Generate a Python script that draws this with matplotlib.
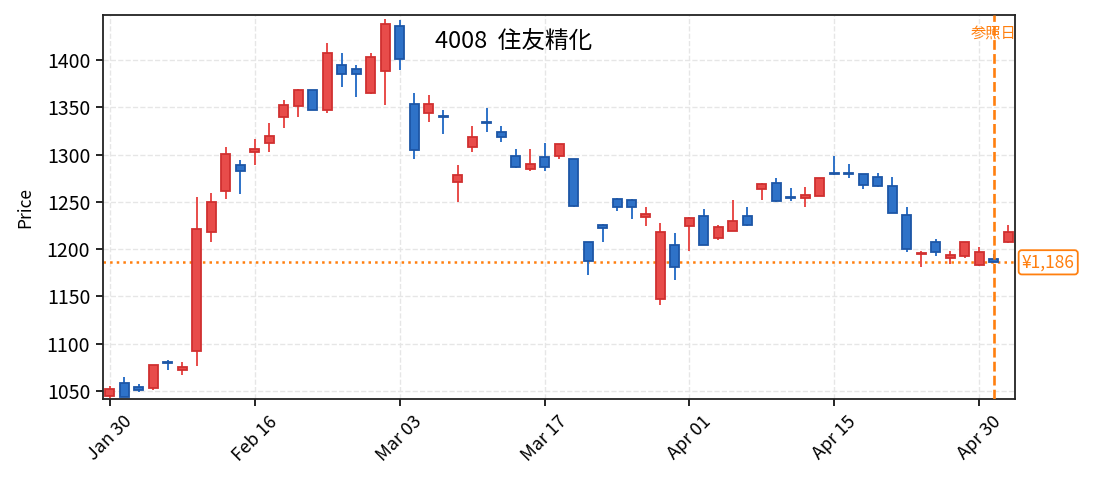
import matplotlib
matplotlib.use("Agg")
import matplotlib.pyplot as plt
import numpy as np

plt.rcParams['font.family'] = ['Noto Sans CJK JP', 'DejaVu Sans']

# Daily OHLC (trading days, 2026)
dates = ['Jan 30', 'Feb 02', 'Feb 03', 'Feb 04', 'Feb 05', 'Feb 06', 'Feb 09', 'Feb 10',
         'Feb 12', 'Feb 13', 'Feb 16', 'Feb 17', 'Feb 18', 'Feb 19', 'Feb 20', 'Feb 24',
         'Feb 25', 'Feb 26', 'Feb 27', 'Mar 02', 'Mar 03', 'Mar 04', 'Mar 05', 'Mar 06',
         'Mar 09', 'Mar 10', 'Mar 11', 'Mar 12', 'Mar 13', 'Mar 16', 'Mar 17', 'Mar 18',
         'Mar 19', 'Mar 23', 'Mar 24', 'Mar 25', 'Mar 26', 'Mar 27', 'Mar 30', 'Mar 31',
         'Apr 01', 'Apr 02', 'Apr 03', 'Apr 06', 'Apr 07', 'Apr 08', 'Apr 09', 'Apr 10',
         'Apr 13', 'Apr 14', 'Apr 15', 'Apr 16', 'Apr 17', 'Apr 20', 'Apr 21', 'Apr 22',
         'Apr 23', 'Apr 24', 'Apr 27', 'Apr 28', 'Apr 30', 'May 01', 'May 07']
opens = [1045, 1058, 1054, 1053, 1080, 1072, 1092, 1218, 1261, 1289, 1303, 1312, 1340,
         1351, 1368, 1347, 1395, 1391, 1365, 1388, 1436, 1354, 1344, 1341, 1271, 1308,
         1334, 1324, 1299, 1285, 1297, 1299, 1295, 1207, 1226, 1253, 1252, 1234, 1147,
         1204, 1224, 1235, 1212, 1219, 1235, 1264, 1270, 1255, 1254, 1256, 1280, 1280,
         1279, 1276, 1267, 1236, 1195, 1208, 1191, 1193, 1183, 1190, 1207]
highs = [1055, 1065, 1057, 1077, 1083, 1081, 1255, 1259, 1308, 1294, 1316, 1333, 1358,
         1369, 1368, 1418, 1408, 1395, 1408, 1443, 1442, 1365, 1363, 1347, 1289, 1330,
         1349, 1330, 1306, 1306, 1312, 1311, 1295, 1208, 1227, 1254, 1253, 1244, 1228,
         1217, 1234, 1242, 1226, 1252, 1245, 1270, 1275, 1265, 1266, 1275, 1298, 1290,
         1279, 1281, 1276, 1244, 1198, 1211, 1198, 1207, 1202, 1195, 1226]
lows = [1042, 1043, 1049, 1051, 1072, 1067, 1076, 1207, 1253, 1258, 1289, 1303, 1328,
        1340, 1347, 1344, 1372, 1361, 1364, 1352, 1390, 1295, 1334, 1322, 1250, 1303,
        1324, 1313, 1286, 1283, 1283, 1295, 1244, 1173, 1207, 1240, 1232, 1224, 1141,
        1167, 1198, 1204, 1210, 1219, 1224, 1252, 1250, 1251, 1244, 1256, 1278, 1275,
        1264, 1266, 1238, 1197, 1181, 1193, 1184, 1191, 1182, 1186, 1206]
closes = [1052, 1043, 1051, 1077, 1079, 1075, 1221, 1250, 1301, 1283, 1306, 1320, 1352,
          1368, 1347, 1407, 1385, 1385, 1403, 1438, 1401, 1305, 1354, 1340, 1278, 1319,
          1333, 1319, 1287, 1290, 1287, 1311, 1246, 1187, 1222, 1245, 1244, 1237, 1218,
          1181, 1233, 1204, 1223, 1230, 1226, 1269, 1251, 1254, 1257, 1275, 1279, 1279,
          1268, 1267, 1238, 1200, 1196, 1197, 1194, 1207, 1197, 1186, 1218]

code = '4008'
name = '住友精化'
ref_idx = 61
ref_price = 1186

up_face, up_edge = '#e84c4a', '#d03030'
dn_face, dn_edge = '#2e72c8', '#1d56a6'

x = np.arange(len(dates))
o = np.array(opens)
c = np.array(closes)
up = c >= o

fig, ax = plt.subplots(figsize=(10.93, 4.9), dpi=100)
fig.subplots_adjust(left=0.094, right=0.929, top=0.969, bottom=0.186)

# wicks
ax.vlines(x[up], np.array(lows)[up], np.array(highs)[up], color=up_face, linewidth=1.4, zorder=2)
ax.vlines(x[~up], np.array(lows)[~up], np.array(highs)[~up], color=dn_face, linewidth=1.4, zorder=2)

# bodies
body = np.maximum(np.abs(c - o), 0.8)
bottom = np.minimum(o, c)
ax.bar(x[up], body[up], bottom=bottom[up], width=0.62, color=up_face,
       edgecolor=up_edge, linewidth=1.3, zorder=3)
ax.bar(x[~up], body[~up], bottom=bottom[~up], width=0.62, color=dn_face,
       edgecolor=dn_edge, linewidth=1.3, zorder=3)

# reference day / price
ax.axhline(ref_price, color='#ff7f0e', linestyle=':', linewidth=1.8, zorder=1)
ax.axvline(ref_idx, color='#ff7f0e', linestyle='--', linewidth=1.9, zorder=4)
ax.text(ref_idx, 1428.5, '参照日', color='#ff7f0e', fontsize=11, ha='center', va='center')
ax.text(1.007, ref_price, f'¥{ref_price:,}', transform=ax.get_yaxis_transform(),
        color='#ff7f0e', fontsize=12.5, ha='left', va='center',
        bbox=dict(boxstyle='round,pad=0.18', facecolor='white', edgecolor='#ff7f0e', linewidth=1.3))

ax.text(0.45, 0.93, f'{code}  {name}', transform=ax.transAxes, fontsize=17,
        ha='center', va='center')

ax.set_xlim(-0.5, len(dates) - 0.5)
ax.set_ylim(1041.5, 1447.5)
ax.set_yticks([1050, 1100, 1150, 1200, 1250, 1300, 1350, 1400])
ticks = x[::10]
ax.set_xticks(ticks)
ax.set_xticklabels([dates[i] for i in ticks], rotation=45, ha='center')
ax.tick_params(axis='x', labelsize=13, length=5, width=1.2, pad=5)
ax.tick_params(axis='y', labelsize=14, length=5, width=1.2, pad=4)
ax.set_ylabel('Price', fontsize=12.5, labelpad=9)
ax.grid(True, linestyle='--', color='#e6e6e6', linewidth=1)
ax.set_axisbelow(True)
for s in ax.spines.values():
    s.set_linewidth(1.3)
    s.set_color('#222222')

fig.savefig('out.png', dpi=100)
